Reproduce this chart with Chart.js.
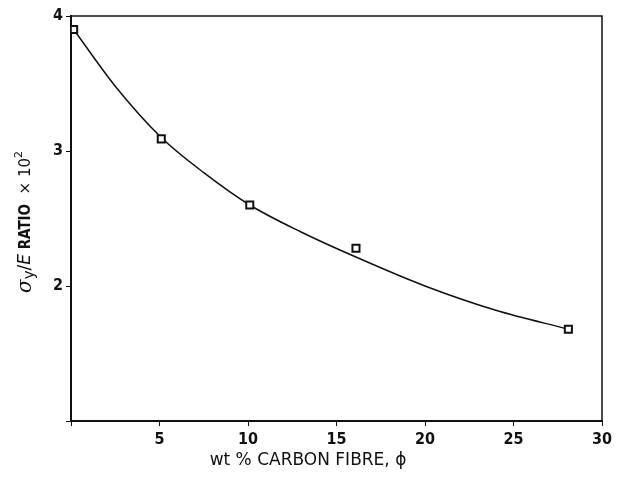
<!DOCTYPE html>
<html>
<head>
<meta charset="utf-8">
<script src="https://cdn.jsdelivr.net/npm/chart.js@4/dist/chart.umd.min.js"></script>
<style>
  html, body { margin: 0; padding: 0; background: #fff; }
  #wrap { width: 621px; height: 477px; }
</style>
</head>
<body>
<div id="wrap"><canvas id="chart" width="621" height="477"></canvas></div>
<script>
// measured points (wt % fibre, ratio x 10^2)
const fibreX = [0.15, 5.1, 10.1, 16.1, 28.1];
const ratioY = [3.9, 3.09, 2.6, 2.28, 1.68];

// fitted curve
const curveX = [0.15, 2.5, 5.1, 7.5, 10.1, 13, 16, 20, 24, 28.1];
const curveY = [3.9, 3.48, 3.1, 2.84, 2.6, 2.4, 2.22, 2.0, 1.82, 1.68];

const xTicks = [0, 5, 10, 15, 20, 25, 30];
const yTicks = [1, 2, 3, 4];

const tickFont = { family: "'Liberation Sans Narrow', 'DejaVu Sans Condensed', 'Liberation Sans', sans-serif", size: 16, weight: "bold" };

// frame + axis titles
const framePlugin = {
  id: "frame",
  afterDraw(chart) {
    const { ctx, chartArea: a } = chart;
    ctx.save();
    ctx.strokeStyle = "#111";
    ctx.lineWidth = 1.5;
    ctx.strokeRect(a.left, a.top, a.right - a.left, a.bottom - a.top);

    // x title
    ctx.fillStyle = "#111";
    ctx.font = "17px 'DejaVu Sans', sans-serif";
    ctx.textAlign = "center";
    ctx.textBaseline = "middle";
    ctx.fillText("wt % CARBON FIBRE, \u03d5", 308, 461);

    // y title with subscript
    ctx.translate(26, 222);
    ctx.rotate(-Math.PI / 2);
    const parts = [
      { t: "\u03c3", f: "italic 20px 'DejaVu Serif', serif", dy: 0 },
      { t: "y", f: "15px 'DejaVu Sans', sans-serif", dy: 4 },
      { t: "/", f: "17px 'DejaVu Sans', sans-serif", dy: 0 },
      { t: "E", f: "italic 17px 'DejaVu Sans', sans-serif", dy: 0 },
      { t: " RATIO ", f: "bold 15px 'Liberation Sans Narrow', 'DejaVu Sans Condensed', sans-serif", dy: 0 },
      { t: " \u00d7 10", f: "15px 'DejaVu Sans', sans-serif", dy: 0 },
      { t: "2", f: "11px 'DejaVu Sans', sans-serif", dy: -7 },
    ];
    let total = 0;
    parts.forEach((p) => { ctx.font = p.f; p.w = ctx.measureText(p.t).width; total += p.w; });
    let x = -total / 2;
    ctx.textAlign = "left";
    parts.forEach((p) => {
      ctx.font = p.f;
      ctx.fillText(p.t, x, p.dy);
      x += p.w;
    });
    ctx.restore();
  },
};

new Chart(document.getElementById("chart"), {
  type: "scatter",
  plugins: [framePlugin],
  data: {
    datasets: [
      {
        label: "fit",
        data: curveX.map((x, i) => ({ x: x, y: curveY[i] })),
        showLine: true,
        borderColor: "#111",
        borderWidth: 1.5,
        pointRadius: 0,
        cubicInterpolationMode: "monotone",
        order: 2,
      },
      {
        label: "measured",
        data: fibreX.map((x, i) => ({ x: x, y: ratioY[i] })),
        showLine: false,
        pointStyle: "rect",
        pointRadius: 5,
        borderColor: "#111",
        borderWidth: 2,
        backgroundColor: "#fff",
        order: 1,
      },
    ],
  },
  options: {
    responsive: false,
    animation: false,
    layout: { padding: { left: 0, top: 16, right: 19, bottom: 0 } },
    plugins: { legend: { display: false }, tooltip: { enabled: false } },
    scales: {
      x: {
        type: "linear",
        min: 0,
        max: 30,
        afterBuildTicks: (s) => { s.ticks = xTicks.map((v) => ({ value: v })); },
        afterFit: (s) => { s.height = 56; },
        ticks: {
          color: "#111",
          font: tickFont,
          padding: 4,
          maxRotation: 0,
          autoSkip: false,
          callback: (v) => (v === 0 ? "" : v),
        },
        grid: { drawOnChartArea: false, color: "#111", tickLength: 5 },
        border: { color: "#111", width: 2 },
      },
      y: {
        type: "linear",
        min: 1,
        max: 4,
        afterBuildTicks: (s) => { s.ticks = yTicks.map((v) => ({ value: v })); },
        afterFit: (s) => { s.width = 71; },
        ticks: {
          color: "#111",
          font: tickFont,
          padding: 3,
          callback: (v) => (v === 1 ? "" : v),
        },
        grid: { drawOnChartArea: false, color: "#111", tickLength: 5 },
        border: { color: "#111", width: 2 },
      },
    },
  },
});
</script>
</body>
</html>
